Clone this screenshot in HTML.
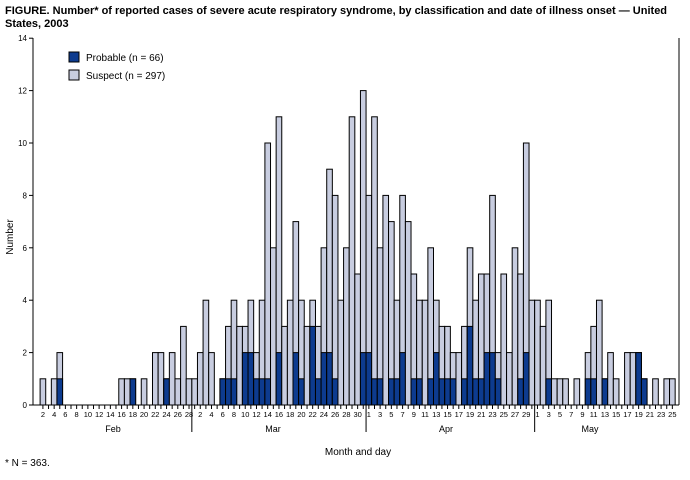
<!DOCTYPE html>
<html><head><meta charset="utf-8"><style>
body{margin:0;background:#fff;width:690px;height:475px;overflow:hidden;font-family:"Liberation Sans",Arial,sans-serif}
</style></head><body>
<svg id="s" width="690" height="475" xmlns="http://www.w3.org/2000/svg" font-family="Liberation Sans, Arial, sans-serif">
<text x="5" y="14" font-size="11" font-weight="bold">FIGURE. Number* of reported cases of severe acute respiratory syndrome, by classification and date of illness onset — United</text>
<text x="5" y="27" font-size="11" font-weight="bold">States, 2003</text>
<rect x="69" y="52" width="10" height="10" fill="#0d3b8f" stroke="#000" stroke-width="1"/>
<text x="86" y="61" font-size="10">Probable (n = 66)</text>
<rect x="69" y="70" width="10" height="10" fill="#c8cde0" stroke="#000" stroke-width="1"/>
<text x="86" y="79" font-size="10">Suspect (n = 297)</text>
<text transform="translate(13,237) rotate(-90)" font-size="10" text-anchor="middle">Number</text>
<text x="358" y="455" font-size="10" text-anchor="middle">Month and day</text>
<text x="5" y="466" font-size="10">* N = 363.</text>
<g id="g"></g>
</svg>
<script>
var d=[[1,0],[0,0],[1,0],[2,1],0,0,0,0,0,0,0,0,0,0,1,1,[1,1],0,1,0,2,2,[1,1],2,1,3,1,
1,2,4,2,0,[1,1],[3,1],[4,1],3,[3,2],[4,2],[2,1],[4,1],[10,1],6,[11,2],3,4,[7,2],[4,1],3,[4,3],[3,1],[6,2],[9,2],[8,1],4,6,11,5,[12,2],
[8,2],[11,1],[6,1],8,[7,1],[4,1],[8,2],7,[5,1],[4,1],4,[6,1],[4,2],[3,1],[3,1],[2,1],2,[3,1],[6,3],[4,1],[5,1],[5,2],[8,2],[2,1],5,2,6,[5,1],[10,2],4,
4,3,[4,1],1,1,1,0,1,0,[2,1],[3,1],4,[1,1],2,1,0,2,2,[2,2],[1,1],0,1,0,1,1];
var x0=40.1,w=5.62,b=405,u=26.2,h='';
function X(i){return x0+i*w;}
for(var i=0;i<d.length;i++){var v=d[i];if(typeof v=='number')v=[v,0];var t=v[0],p=v[1];
if(t>0){h+='<rect x="'+X(i)+'" y="'+(b-t*u)+'" width="'+w+'" height="'+(t*u)+'" fill="#c8cde0" stroke="#000" stroke-width="1"/>';}
if(p>0){h+='<rect x="'+X(i)+'" y="'+(b-p*u)+'" width="'+w+'" height="'+(p*u)+'" fill="#0d3b8f" stroke="#000" stroke-width="1"/>';}
var cx=X(i)+w/2;h+='<line x1="'+cx+'" y1="405" x2="'+cx+'" y2="409" stroke="#000"/>';
var lab=null;
if(i<27){var day=i+2;if(day%2==0)lab=day;}
else if(i<58){var day=i-26;if(day%2==0)lab=day;}
else if(i<88){var day=i-57;if(day%2==1)lab=day;}
else{var day=i-87;if(day%2==1)lab=day;}
if(lab!==null)h+='<text x="'+cx+'" y="417" font-size="7.5" text-anchor="middle">'+lab+'</text>';}
[27,58,88].forEach(function(i){var x=X(i);h+='<line x1="'+x+'" y1="405" x2="'+x+'" y2="432" stroke="#000"/>';});
h+='<line x1="33" y1="38" x2="33" y2="405" stroke="#000"/><line x1="33" y1="405" x2="679" y2="405" stroke="#000"/><line x1="679" y1="38" x2="679" y2="405" stroke="#000"/>';
for(var k=0;k<=14;k+=2){var y=b-k*u;h+='<line x1="29" y1="'+y+'" x2="33" y2="'+y+'" stroke="#000"/><text x="27" y="'+(y+3)+'" font-size="8" text-anchor="end">'+k+'</text>';}
h+='<text x="113" y="432" font-size="9" text-anchor="middle">Feb</text><text x="273" y="432" font-size="9" text-anchor="middle">Mar</text><text x="446" y="432" font-size="9" text-anchor="middle">Apr</text><text x="590" y="432" font-size="9" text-anchor="middle">May</text>';
document.getElementById('g').innerHTML=h;
</script>
</body></html>
